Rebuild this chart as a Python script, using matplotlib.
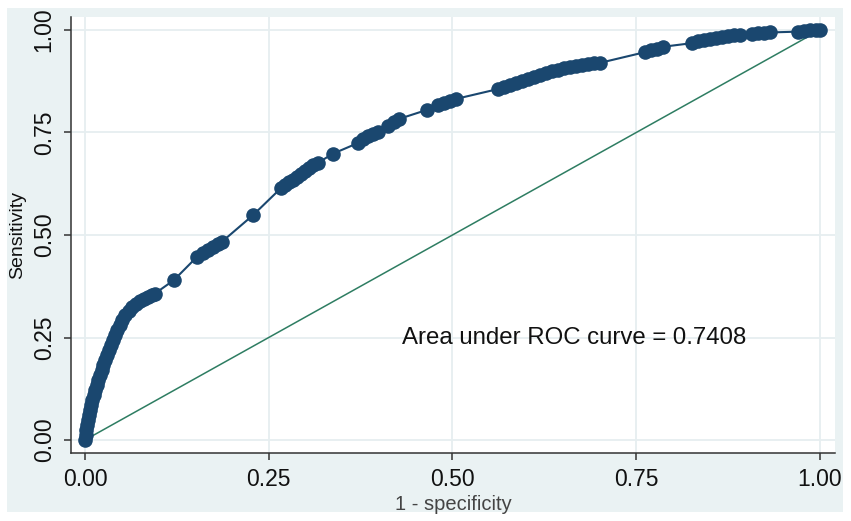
import matplotlib
matplotlib.use("Agg")
import matplotlib.pyplot as plt
from matplotlib.patches import Rectangle

# ROC points (1 - specificity, sensitivity)
fpr = [0.000, 0.001, 0.001, 0.003, 0.004, 0.005, 0.007, 0.008, 0.010, 0.012,
       0.014, 0.016, 0.018, 0.020, 0.023, 0.025, 0.027, 0.030, 0.033, 0.035,
       0.038, 0.041, 0.044, 0.048, 0.051, 0.055, 0.060, 0.064, 0.069, 0.075,
       0.080, 0.086, 0.091, 0.095,
       0.121,
       0.152, 0.161, 0.167, 0.174, 0.181, 0.186,
       0.229,
       0.267, 0.272, 0.278, 0.283, 0.288, 0.294, 0.299, 0.305, 0.310, 0.317,
       0.337,
       0.371, 0.378, 0.385, 0.392, 0.399,
       0.412, 0.420, 0.427,
       0.465,
       0.480, 0.488, 0.497, 0.505,
       0.562, 0.570, 0.578, 0.586, 0.595, 0.603, 0.611, 0.619, 0.627, 0.635,
       0.644, 0.652, 0.660, 0.668, 0.676, 0.684, 0.693, 0.701,
       0.762, 0.770, 0.778, 0.786,
       0.826, 0.834, 0.842, 0.850, 0.859, 0.867, 0.875, 0.883, 0.891,
       0.907, 0.916, 0.924, 0.932,
       0.970, 0.978, 0.986, 0.995, 1.000]
tpr = [0.000, 0.012, 0.024, 0.037, 0.049, 0.061, 0.073, 0.085, 0.098, 0.110,
       0.122, 0.134, 0.146, 0.159, 0.171, 0.183, 0.195, 0.207, 0.220, 0.232,
       0.244, 0.256, 0.268, 0.280, 0.293, 0.305, 0.315, 0.324, 0.332, 0.339,
       0.344, 0.349, 0.354, 0.357,
       0.390,
       0.446, 0.456, 0.463, 0.471, 0.478, 0.483,
       0.549,
       0.615, 0.622, 0.629, 0.634, 0.641, 0.649, 0.656, 0.663, 0.671, 0.676,
       0.698,
       0.724, 0.734, 0.741, 0.746, 0.751,
       0.766, 0.776, 0.783,
       0.805,
       0.817, 0.822, 0.827, 0.832,
       0.856, 0.861, 0.866, 0.871, 0.876, 0.880, 0.885, 0.890, 0.895, 0.900,
       0.902, 0.907, 0.910, 0.912, 0.915, 0.917, 0.920, 0.920,
       0.946, 0.951, 0.954, 0.959,
       0.968, 0.973, 0.976, 0.978, 0.980, 0.983, 0.985, 0.988, 0.988,
       0.990, 0.993, 0.993, 0.994,
       0.996, 0.998, 0.999, 1.000, 1.000]

ref_x = [0.0, 1.0]
ref_y = [0.0, 1.0]
ticks = [0.0, 0.25, 0.5, 0.75, 1.0]
tick_labels = ["0.00", "0.25", "0.50", "0.75", "1.00"]
auc_text = "Area under ROC curve = 0.7408"

plt.rcParams['font.family'] = ['Liberation Sans', 'DejaVu Sans']

W, H = 851, 521
fig = plt.figure(figsize=(W / 100, H / 100), dpi=100)
fig.patch.set_facecolor("white")

panel_col = "#EAF2F3"
fig.patches.append(Rectangle((7 / W, 1 - 512 / H), (843 - 7) / W, (512 - 8) / H,
                             transform=fig.transFigure, facecolor=panel_col,
                             edgecolor="none", zorder=-10))

ax = fig.add_axes([71 / W, 1 - 453 / H, (835 - 71) / W, (453 - 17) / H])
ax.set_facecolor("white")
ax.set_xlim(-0.019, 1.0204)
ax.set_ylim(-0.0317, 1.0317)

ax.set_xticks(ticks)
ax.set_xticklabels(tick_labels)
ax.set_yticks(ticks)
ax.set_yticklabels(tick_labels, rotation=90, va="center")
ax.grid(True, color="#E6EEF0", linewidth=1.3)
ax.set_axisbelow(True)

for s in ["top", "right"]:
    ax.spines[s].set_visible(False)
for s in ["left", "bottom"]:
    ax.spines[s].set_color("#333333")
    ax.spines[s].set_linewidth(1.1)
ax.tick_params(axis="both", direction="out", length=5, width=1.1,
               color="#333333", labelsize=16.5, labelcolor="#111111", pad=6)

ax.plot(ref_x, ref_y, color="#2E7D62", linewidth=1.1, zorder=2)
ax.plot(fpr, tpr, color="#1A476F", linewidth=1.5, marker="o", markersize=10.5,
        markeredgewidth=0, zorder=3)

ax.text(0.431, 0.249, auc_text, fontsize=17.3, color="#111111",
        ha="left", va="center")

ax.set_ylabel("Sensitivity", fontsize=14, color="#111111", labelpad=5)
ax.set_xlabel("1 - specificity", fontsize=14.5, color="#444444", labelpad=3)

fig.patches.append(Rectangle((843 / W, 0), (W - 843) / W, 1,
                             transform=fig.transFigure, facecolor="white",
                             edgecolor="none", zorder=20))

fig.savefig("out.png", dpi=100, facecolor=fig.get_facecolor())
